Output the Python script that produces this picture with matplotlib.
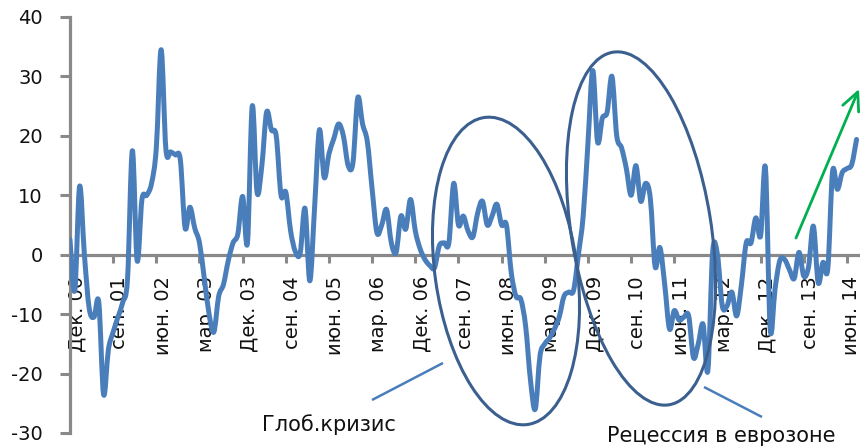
import numpy as np
import matplotlib
matplotlib.use("Agg")
import matplotlib.pyplot as plt
from matplotlib.path import Path
from matplotlib.patches import PathPatch, Ellipse, FancyArrowPatch

plt.rcParams["font.family"] = ["DejaVu Sans"]

# Monthly series, December 2000 onward (one value per month)
values = [
    2.5, -6, 11.5, 0, -9, -10.5, -8, -23.5, -16, -13,
    -10.5, -8, -4, 17.5, -1, 9.3, 10, 12, 18, 34.5,
    17.7, 17.3, 16.8, 16, 4.5, 8, 4.5, 2, -4, -10,
    -13, -7, -5, -1, 2, 3.5, 9.8, 2, 25, 10.5,
    15, 24, 21, 20, 10, 10.5, 4, 0.5, 0.3, 7.8,
    -4.4, 8, 21, 13, 17, 19.5, 22, 20, 15, 15.5,
    26.4, 22, 19, 11, 3.7, 5, 7.6, 2, 0.4, 6.5,
    4.3, 9.3, 4, 1, -0.8, -1.8, -2.2, 1.5, 2, 2,
    12, 5, 6.5, 4, 3, 7, 9, 5, 6.5, 8.5,
    5, 5, -3, -7, -7.5, -12, -21, -26, -17, -15,
    -14, -12.5, -10.5, -7, -6.3, -6, 0, 6.5, 18.8, 31,
    19, 23, 24, 30, 20, 18, 14.5, 10, 15, 9,
    12, 9.5, -2, 1.2, -5, -12.5, -9.4, -11, -10.5, -10.3,
    -17.3, -15, -11.7, -19.5, 0.5, 0, -8.6, -8.6, -6.3, -10.3,
    -5, 2, 2, 6.2, 3.2, 14.6, -12.5, -5.8, -1, -0.8,
    -2.5, -4, 0.4, -3.6, -2, 4.8, -4.7, -1.3, -2.4, 14,
    11, 13.8, 14.5, 15.2, 19.4,
]

# Axis labels every 9 months
tick_labels = [
    "Дек. 00", "сен. 01", "июн. 02", "мар. 03", "Дек. 03", "сен. 04",
    "июн. 05", "мар. 06", "Дек. 06", "сен. 07", "июн. 08", "мар. 09",
    "Дек. 09", "сен. 10", "июн. 11", "мар. 12", "Дек. 12", "сен. 13",
    "июн. 14",
]
label_step = 9
y_ticks = [-30, -20, -10, 0, 10, 20, 30, 40]

annotations = ["Глоб.кризис", "Рецессия в еврозоне"]

W, H = 860, 446
fig = plt.figure(figsize=(W / 100, H / 100), dpi=100)
ax = fig.add_axes([70 / W, 13 / H, 790 / W, 416 / H])
ax.set_facecolor("none")

axis_grey = "#898989"
series_blue = "#4a7ebb"
ring_blue = "#3b6090"

# Smooth line through the monthly points (cubic Bezier segments)
y = np.asarray(values, dtype=float)
x = np.arange(len(y), dtype=float)
pts = np.column_stack([x, y])
n = len(pts)
verts = [pts[0]]
codes = [Path.MOVETO]
for i in range(n - 1):
    p0 = pts[i - 1] if i > 0 else pts[i]
    p1 = pts[i]
    p2 = pts[i + 1]
    p3 = pts[i + 2] if i + 2 < n else pts[i + 1]
    c1 = p1 + (p2 - p0) / 6.0
    c2 = p2 - (p3 - p1) / 6.0
    verts += [c1, c2, p2]
    codes += [Path.CURVE4] * 3
curve = PathPatch(Path(verts, codes), fill=False, edgecolor=series_blue,
                  linewidth=3.6, capstyle="round", joinstyle="round",
                  zorder=3)
ax.add_patch(curve)

x_max = 790 / 4.796
ax.set_xlim(0, x_max)
ax.set_ylim(-30, 40)

# Spines: left axis line and the zero line as the category axis
for side in ("top", "right"):
    ax.spines[side].set_visible(False)
ax.spines["left"].set_color(axis_grey)
ax.spines["left"].set_linewidth(2.3)
ax.spines["bottom"].set_position(("data", 0))
ax.spines["bottom"].set_color(axis_grey)
ax.spines["bottom"].set_linewidth(2.3)
ax.spines["bottom"].set_zorder(2)

ax.set_yticks(y_ticks)
ax.set_yticklabels([str(v) for v in y_ticks])
ax.tick_params(axis="y", direction="out", length=7.5, width=2.2,
               color=axis_grey, labelsize=14, pad=12, labelcolor="#111111")

major_x = [k * label_step for k in range(len(tick_labels))]
ax.set_xticks(major_x)
ax.set_xticklabels([""] * len(major_x))
ax.tick_params(axis="x", which="major", direction="out", length=6,
               width=2.2, color=axis_grey)
# labels sit just right of their tick; keep the last one inside the figure
label_x = [min(m + 1.4, x_max - 1.8) for m in major_x]
ax.set_xticks(label_x, minor=True)
ax.set_xticklabels(tick_labels, minor=True, rotation=90, fontsize=14,
                   color="#111111")
ax.tick_params(axis="x", which="minor", length=0, pad=15.5)

# Overlay in pixel units (y up) for the call-outs
ov = fig.add_axes([0, 0, 1, 1], zorder=5)
ov.set_xlim(0, W)
ov.set_ylim(0, H)
ov.axis("off")
ov.patch.set_alpha(0)


def px(xp, yp):
    return (xp, H - yp)


ov.add_patch(Ellipse(px(506, 271), width=142, height=310, angle=8,
                     fill=False, edgecolor=ring_blue, linewidth=2.2))
ov.add_patch(Ellipse(px(641, 228.5), width=140, height=357, angle=9,
                     fill=False, edgecolor=ring_blue, linewidth=2.2))

for (x0, y0), (x1, y1) in [((372, 400), (443, 363)),
                           ((704, 387), (762, 417))]:
    a, b = px(x0, y0), px(x1, y1)
    ov.plot([a[0], b[0]], [a[1], b[1]], color=series_blue, linewidth=1.8,
            solid_capstyle="butt")

ov.text(*px(262, 431), annotations[0], fontsize=15, color="#111111",
        ha="left", va="baseline")
ov.text(*px(607, 442), annotations[1], fontsize=15, color="#111111",
        ha="left", va="baseline")

arrow = FancyArrowPatch(px(796, 238), px(859, 89),
                        arrowstyle="->, head_length=1.3, head_width=0.62",
                        mutation_scale=10, color="#00b050", linewidth=2.0,
                        shrinkA=0, shrinkB=0)
ov.add_patch(arrow)

fig.savefig("out.png", dpi=100)
